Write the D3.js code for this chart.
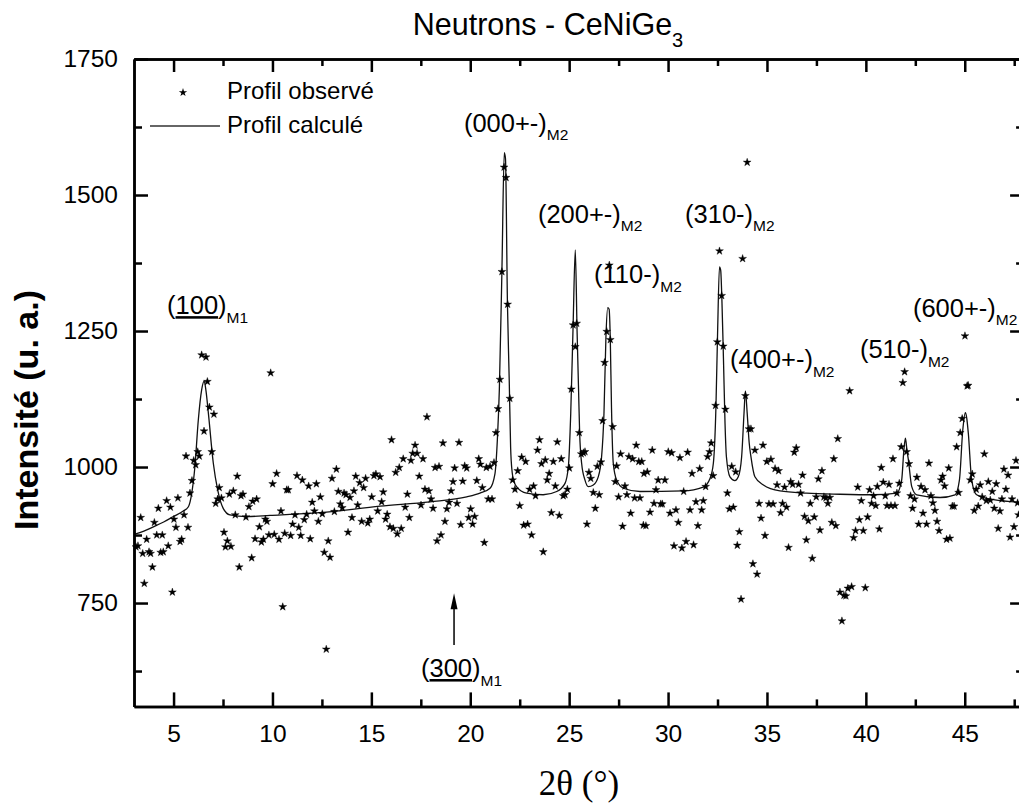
<!DOCTYPE html>
<html><head><meta charset="utf-8">
<script src="https://cdn.jsdelivr.net/npm/d3@7"></script>
<style>
html,body{margin:0;padding:0;background:#fff;}
text{font-family:"Liberation Sans",Arial,sans-serif;fill:#000;}
</style></head>
<body>
<svg id="chart" width="1019" height="803"></svg>
<script>
// ---- Data ----
const obsX = [3.1,3.2,3.34,3.44,3.52,3.64,3.76,3.84,3.93,4.03,4.15,4.23,4.35,4.43,4.48,4.65,4.73,4.84,4.94,5.02,5.12,5.22,5.33,5.41,5.53,5.63,5.73,5.83,5.93,6.02,6.12,6.22,6.3,6.42,6.54,6.64,6.71,6.81,6.93,7.04,7.13,7.23,7.31,7.42,7.55,7.62,7.72,7.82,7.9,8.02,8.12,8.22,8.32,8.41,8.51,8.66,8.81,8.95,9.0,9.12,9.2,9.34,9.44,9.54,9.64,9.72,9.82,9.91,10.01,10.09,10.21,10.33,10.43,10.52,10.62,10.72,10.8,10.92,11.02,11.14,11.24,11.33,11.43,11.51,11.61,11.73,11.83,11.91,12.01,12.12,12.22,12.32,12.42,12.52,12.62,12.72,12.82,12.91,13.01,13.13,13.23,13.33,13.43,13.53,13.62,13.72,13.82,13.92,14.02,14.12,14.21,14.31,14.41,14.51,14.61,14.71,14.82,14.92,15.02,15.13,15.23,15.32,15.44,15.52,15.6,15.72,15.8,15.94,16.02,16.11,16.23,16.31,16.41,16.51,16.61,16.71,16.82,16.92,17.0,17.09,17.21,17.31,17.42,17.51,17.61,17.71,17.81,17.91,18.02,18.12,18.22,18.32,18.42,18.52,18.62,18.72,18.82,18.93,19.03,19.13,19.21,19.33,19.43,19.52,19.62,19.72,19.82,19.92,20.02,20.12,20.22,20.33,20.43,20.51,20.61,20.71,20.81,20.91,21.0,21.1,21.2,21.3,21.4,21.5,21.6,21.71,21.81,21.89,22.0,22.14,22.26,22.4,22.5,22.6,22.7,22.8,22.9,23.0,23.1,23.2,23.3,23.4,23.5,23.6,23.69,23.79,23.89,23.99,24.1,24.2,24.3,24.4,24.5,24.6,24.7,24.79,24.91,25.01,25.11,25.2,25.31,25.38,25.51,25.61,25.72,25.8,25.9,26.0,26.09,26.22,26.32,26.42,26.52,26.61,26.69,26.79,26.9,27.03,27.08,27.2,27.33,27.4,27.5,27.6,27.7,27.82,27.92,28.02,28.11,28.21,28.31,28.39,28.52,28.58,28.67,28.75,28.78,28.88,28.95,29.09,29.2,29.29,29.39,29.5,29.63,29.71,29.84,30.01,30.1,30.18,30.3,30.4,30.52,30.6,30.7,30.79,30.91,30.99,31.11,31.21,31.29,31.41,31.51,31.6,31.7,31.78,31.9,32.0,32.1,32.18,32.28,32.4,32.49,32.6,32.71,32.79,32.9,33.0,33.1,33.22,33.3,33.42,33.5,33.6,33.69,33.77,33.91,34.0,34.09,34.19,34.29,34.39,34.5,34.6,34.7,34.8,34.9,34.99,35.1,35.2,35.31,35.41,35.51,35.59,35.69,35.79,35.89,35.99,36.09,36.2,36.3,36.38,36.48,36.6,36.7,36.8,36.9,36.99,37.09,37.19,37.29,37.39,37.49,37.6,37.68,37.78,37.88,37.98,38.08,38.18,38.28,38.38,38.48,38.58,38.69,38.79,38.89,38.99,39.09,39.18,39.28,39.38,39.48,39.59,39.67,39.77,39.87,39.97,40.09,40.19,40.29,40.39,40.5,40.58,40.68,40.78,40.88,40.98,41.07,41.17,41.27,41.37,41.47,41.57,41.69,41.79,41.87,41.96,42.06,42.18,42.26,42.36,42.46,42.58,42.67,42.79,42.89,42.99,43.07,43.19,43.29,43.39,43.49,43.6,43.7,43.8,43.88,43.98,44.08,44.19,44.25,44.37,44.46,44.59,44.69,44.77,44.87,45.01,45.12,45.17,45.28,45.38,45.48,45.58,45.68,45.78,45.88,45.99,46.09,46.19,46.29,46.39,46.49,46.59,46.69,46.78,46.88,46.98,47.08,47.19,47.29,47.39,47.49,47.59,47.67,47.72];
const obsY = [853,855,907,841,786,867,844,841,816,898,875,924,843,875,844,938,855,926,770,904,889,943,863,867,912,1020,889,952,975,1012,1004,1028,1020,1206,1066,1202,1157,1110,1028,1097,933,941,962,943,880,853,864,950,854,956,912,983,816,947,950,908,927,833,937,868,941,890,862,867,904,900,875,1173,969,876,988,867,919,743,878,958,958,874,895,912,984,889,874,976,903,913,965,868,935,919,969,900,945,914,843,665,864,834,979,918,996,955,932,925,952,949,880,944,907,956,983,930,971,900,962,979,897,904,945,984,987,919,982,936,954,904,913,890,1050,887,990,877,999,887,1015,926,950,907,1012,1025,1040,1025,983,930,1015,959,1092,956,941,924,999,864,1001,875,1044,900,923,935,956,973,998,933,1045,894,974,1002,998,907,923,895,909,975,1015,1005,962,861,999,941,1001,941,1008,1063,1107,1161,1359,1551,1532,1299,1126,976,959,993,929,1018,893,1010,895,959,875,965,947,1031,1050,1006,844,1013,976,988,916,1010,965,1046,911,1015,947,949,959,998,1143,1261,1221,1264,1063,1024,1026,1028,895,990,979,953,924,1001,949,1009,1085,1192,1249,1371,1234,1074,973,1002,945,1024,891,965,949,1019,915,1015,943,1040,1010,943,1010,893,988,892,991,917,1031,933,958,976,932,932,976,1028,915,1026,855,921,898,1017,851,955,863,1027,921,988,857,936,892,997,921,938,964,1019,1028,1044,984,1113,1230,1397,1315,1222,1106,952,923,1001,926,991,856,881,757,1383,1131,1560,1070,1070,822,1031,803,933,906,1040,874,1010,932,1014,932,997,967,993,916,933,963,926,852,973,968,1027,1035,968,952,985,909,866,901,933,832,908,945,978,884,993,945,943,933,944,898,1015,892,1052,770,717,764,763,777,1140,780,870,883,963,903,938,883,778,908,958,933,947,929,964,886,999,972,947,929,968,929,1015,929,952,970,1037,1155,1175,1028,1006,947,924,941,981,895,964,915,958,895,1007,947,934,920,900,883,976,983,965,867,998,869,928,928,1037,953,1063,1089,1241,1149,1150,976,987,920,959,928,967,945,1024,938,973,939,955,924,969,887,919,941,996,959,985,871,941,890,1012,934,912];

const calcX = [3.0,3.5,3.98,4.5,4.99,5.49,5.75,5.92,6.08,6.25,6.42,6.55,6.64,6.76,7.01,7.23,7.51,7.85,8.7,9.88,12.4,15.44,17.96,19.82,20.49,21.0,21.25,21.37,21.47,21.6,21.72,21.78,21.88,21.97,22.04,22.12,22.2,22.34,22.85,23.69,24.37,24.79,24.96,25.08,25.2,25.31,25.4,25.47,25.53,25.63,25.8,25.97,26.22,26.47,26.64,26.76,26.86,26.95,27.02,27.08,27.14,27.23,27.4,27.74,28.58,30.77,31.78,32.12,32.29,32.42,32.5,32.6,32.66,32.72,32.8,32.88,32.95,33.13,33.38,33.55,33.72,33.84,33.91,34.0,34.1,34.19,34.39,34.82,35.66,37.0,38.69,40.37,41.56,41.81,41.92,42.0,42.08,42.15,42.32,42.57,43.75,44.51,44.73,44.9,45.03,45.1,45.18,45.35,45.6,46.45,48.0];
const calcY = [876,882,890,899,909,919,927,952,1001,1086,1142,1158,1140,1099,1007,958,924,912,909,911,916,928,936,945,952,961,988,1050,1142,1360,1578,1567,1300,1160,1037,990,975,964,952,949,955,970,1001,1099,1261,1399,1250,1150,1063,1007,976,964,967,982,1019,1099,1240,1293,1290,1234,1110,1007,976,961,955,956,963,979,1007,1110,1240,1368,1362,1310,1200,1080,1019,982,975,982,1019,1099,1140,1099,1045,1019,982,967,956,952,950,949,952,976,1030,1053,1030,1013,964,949,944,949,976,1068,1100,1090,1062,976,949,940,935];

const xMajorTicks = [5,10,15,20,25,30,35,40,45];
const xMinorTicks = [7.5,12.5,17.5,22.5,27.5,32.5,37.5,42.5,47.5];
const yMajorTicks = [750,1000,1250,1500,1750];
const yMinorTicks = [625,875,1125,1375,1625];

const annotations = [
  {main:"(000+-)", sub:"M2", x:19.68, y:1616},
  {main:"(200+-)", sub:"M2", x:23.42, y:1449},
  {main:"(110-)",  sub:"M2", x:26.26, y:1338},
  {main:"(310-)",  sub:"M2", x:30.86, y:1449},
  {main:"(400+-)", sub:"M2", x:33.13, y:1182},
  {main:"(510-)",  sub:"M2", x:39.70, y:1200},
  {main:"(600+-)", sub:"M2", x:42.38, y:1276}
];
const underlinedAnn = [
  {hkl:"100", sub:"M1", x:4.67, y:1281},
  {hkl:"300", sub:"M1", x:17.51, y:614}
];
const arrowAnn = {x:19.18, from:673, to:768};

// ---- Layout ----
const svg = d3.select("#chart");
const x = d3.scaleLinear().domain([3,48]).range([134,1024.1]);
const y = d3.scaleLinear().domain([560,1750]).range([706.4,59]);
const axisW = 2.5;

// calc line
const line = d3.line().x((d,i)=>x(calcX[i])).y((d,i)=>y(calcY[i])).curve(d3.curveMonotoneX);
svg.append("path").attr("d", line(calcX)).attr("fill","none").attr("stroke","#111").attr("stroke-width",1.3);

// observed stars
const star = d3.symbol().type(d3.symbolStar).size(19);
svg.append("g").selectAll("path").data(obsX).join("path")
  .attr("d", star)
  .attr("transform",(d,i)=>`translate(${x(d)},${y(obsY[i])})`)
  .attr("fill","#000").attr("stroke","#000").attr("stroke-width",0.4);

// axes
function styleAxis(g){
  g.selectAll(".domain").attr("stroke","#000").attr("stroke-width",axisW);
  g.selectAll(".tick line").attr("stroke","#000").attr("stroke-width",axisW);
  g.selectAll("text").style("font-family","'Liberation Sans',Arial,sans-serif").style("font-size","24.5px").attr("fill","#000");
}
const X0 = x.range()[0], X1 = x.range()[1], Y0 = y.range()[0], Y1 = y.range()[1];
// bottom
svg.append("g").attr("transform",`translate(0,${Y0})`)
  .call(d3.axisBottom(x).tickValues(xMajorTicks).tickSize(-14).tickSizeOuter(0).tickPadding(18).tickFormat(d3.format("d")))
  .call(styleAxis);
svg.append("g").attr("transform",`translate(0,${Y0})`)
  .call(d3.axisBottom(x).tickValues(xMinorTicks).tickSize(-7).tickSizeOuter(0).tickFormat(""))
  .call(styleAxis);
// top
svg.append("g").attr("transform",`translate(0,${Y1})`)
  .call(d3.axisTop(x).tickValues(xMajorTicks).tickSize(-13).tickSizeOuter(0).tickFormat(""))
  .call(styleAxis);
svg.append("g").attr("transform",`translate(0,${Y1})`)
  .call(d3.axisTop(x).tickValues(xMinorTicks).tickSize(-7).tickSizeOuter(0).tickFormat(""))
  .call(styleAxis);
// left
svg.append("g").attr("transform",`translate(${X0},0)`)
  .call(d3.axisLeft(y).tickValues(yMajorTicks).tickSize(-14).tickSizeOuter(0).tickPadding(16).tickFormat(d3.format("d")))
  .call(styleAxis);
svg.append("g").attr("transform",`translate(${X0},0)`)
  .call(d3.axisLeft(y).tickValues(yMinorTicks).tickSize(-8).tickSizeOuter(0).tickFormat(""))
  .call(styleAxis);
// right
svg.append("g").attr("transform",`translate(${X1},0)`)
  .call(d3.axisRight(y).tickValues(yMajorTicks).tickSize(-14).tickSizeOuter(0).tickFormat(""))
  .call(styleAxis);
svg.append("g").attr("transform",`translate(${X1},0)`)
  .call(d3.axisRight(y).tickValues(yMinorTicks).tickSize(-8).tickSizeOuter(0).tickFormat(""))
  .call(styleAxis);

// title
const title = svg.append("text").attr("x",548).attr("y",35).attr("text-anchor","middle").style("font-size","30.5px");
title.append("tspan").text("Neutrons - CeNiGe");
title.append("tspan").text("3").attr("dy",12).style("font-size","20px");

// axis titles
svg.append("text").attr("transform","translate(38,410) rotate(-90)").attr("text-anchor","middle")
  .style("font-size","34px").style("font-weight","bold").text("Intensité (u. a.)");
svg.append("text").attr("x",579).attr("y",795).attr("text-anchor","middle")
  .style("font-family","'Liberation Serif','Times New Roman',serif").style("font-size","35px").text("2θ (°)");

// legend
svg.append("path").attr("d", d3.symbol().type(d3.symbolStar).size(22)()).attr("transform","translate(183,92.5)").attr("fill","#000");
svg.append("text").attr("x",227).attr("y",99).style("font-size","24px").text("Profil observé");
svg.append("line").attr("x1",150).attr("x2",220).attr("y1",126).attr("y2",126).attr("stroke","#333").attr("stroke-width",1.3);
svg.append("text").attr("x",227).attr("y",133).style("font-size","24px").text("Profil calculé");

// annotations
annotations.forEach(a=>{
  const t = svg.append("text").attr("x",x(a.x)).attr("y",y(a.y)).style("font-size","25.5px");
  t.append("tspan").text(a.main);
  t.append("tspan").text(a.sub).attr("dy",8.5).style("font-size","15.5px");
});
underlinedAnn.forEach(a=>{
  const t = svg.append("text").attr("x",x(a.x)).attr("y",y(a.y)).style("font-size","25.5px");
  t.append("tspan").text("(");
  t.append("tspan").text(a.hkl).style("text-decoration","underline");
  t.append("tspan").text(")");
  t.append("tspan").text(a.sub).attr("dy",9).style("font-size","15.5px");
});
// arrow
const ax = x(arrowAnn.x), ay0 = y(arrowAnn.from), ay1 = y(arrowAnn.to);
svg.append("line").attr("x1",ax).attr("x2",ax).attr("y1",ay0).attr("y2",ay1+12).attr("stroke","#000").attr("stroke-width",1.5);
svg.append("path").attr("d",`M${ax},${ay1} L${ax-3.5},${ay1+16} L${ax+3.5},${ay1+16} Z`).attr("fill","#000");
</script>
</body></html>
